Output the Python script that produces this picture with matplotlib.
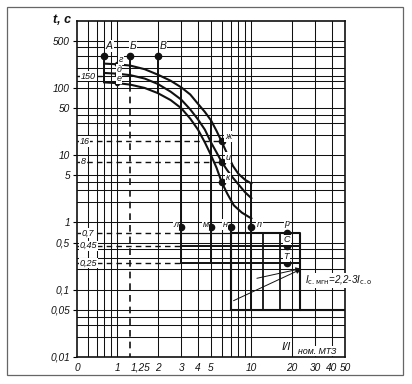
import matplotlib
matplotlib.use('Agg')
import matplotlib.pyplot as plt
from matplotlib.patches import Rectangle
from matplotlib.ticker import NullLocator

plt.rcParams['font.family'] = ['Liberation Sans', 'DejaVu Sans']

# axis ticks (the "0" sits on the left edge of the log axis)
x_ticks = [0.5, 1, 1.25, 2, 3, 4, 5, 10, 20, 30, 40, 50]
x_tick_labels = ['0', '1', '1,25', '2', '3', '4', '5', '10', '20', '30', '40', '50']
y_ticks = [500, 100, 50, 10, 5, 1, 0.5, 0.1, 0.05, 0.01]
y_tick_labels = ['500', '100', '50', '10', '5', '1', '0,5', '0,1', '0,05', '0,01']

grid_x = [0.6, 0.7, 0.8, 0.9, 1, 2, 3, 4, 5, 6, 7, 8, 9, 10, 20, 30, 40]
grid_y = [0.02, 0.03, 0.04, 0.05, 0.1, 0.2, 0.3, 0.4, 0.5, 1, 2, 3, 4, 5,
          10, 20, 30, 40, 50, 100, 125, 150, 200, 300, 400, 500]

# three time-current curves (г-ж, д-и, е-к)
top_x = [0.8, 1.0, 1.25, 1.6, 2.0, 2.5, 3.0, 3.5, 4.0, 4.5, 5.0, 5.5, 6.0, 6.6, 7.3, 8.0, 9.0, 10.0]
top_t = [230, 225, 215, 190, 158, 128, 102, 80, 58, 44, 33, 23, 16, 10.5, 6.9, 5.3, 4.3, 3.8]
mid_x = [0.8, 1.0, 1.25, 1.6, 2.0, 2.5, 3.0, 3.5, 4.0, 4.5, 5.0, 5.5, 6.0, 6.6, 7.3, 8.0, 9.0, 10.0]
mid_t = [167, 163, 155, 138, 115, 88, 67, 48, 34, 24, 15.5, 11, 8, 6.0, 4.6, 3.7, 2.8, 2.3]
bot_x = [0.8, 1.0, 1.25, 1.6, 2.0, 2.5, 3.0, 3.5, 4.0, 4.5, 5.0, 5.5, 6.0, 6.6, 7.4, 8.5, 10.0]
bot_t = [121, 118, 112, 100, 84, 66, 50, 35, 24, 15.5, 10, 6.5, 4, 2.7, 1.8, 1.4, 1.15]

# labelled points
abv_x = [0.8, 1.25, 2.0]
abv_t = [300, 300, 300]
gde_x = [1.0, 1.0, 1.0]
gde_t = [225, 163, 118]
zhik_x = [6.0, 6.0, 6.0]
zhik_t = [16, 8, 4]
lmnp_x = [3, 5, 7, 10]
lmnp_t = [0.85, 0.85, 0.85, 0.85]
rst_x = [18.4, 18.4, 18.4]
rst_t = [0.7, 0.45, 0.25]

# box of the instantaneous stage
box_left, box_right = 7, 23
box_low, box_high = 0.05, 0.7
box_inner_x = [12.2, 16.5]

# arrow to I_c.mgn
arrow_tip = (24.5, 0.21)
arrow_tails = [(7.05, 0.066), (10.5, 0.145)]

K = '#111111'
TXT = dict(style='italic', color=K)
WB = dict(boxstyle='square,pad=0.08', fc='white', ec='none')

fig = plt.figure(figsize=(4.12, 3.84), dpi=100)
ax = fig.add_axes([77 / 412, 27 / 384, 268 / 412, 336.3 / 384])
ax.set_xscale('log')
ax.set_yscale('log')
ax.set_xlim(0.5, 50)
ax.set_ylim(0.01, 1000)

ax.set_xticks(x_ticks)
ax.set_xticklabels(x_tick_labels, fontsize=7.3, **TXT)
ax.get_xticklabels()[2].set_ha('left')
ax.set_yticks(y_ticks)
ax.set_yticklabels(y_tick_labels, fontsize=7.3, **TXT)
ax.xaxis.set_minor_locator(NullLocator())
ax.yaxis.set_minor_locator(NullLocator())
ax.tick_params(axis='x', length=0, pad=4)
ax.tick_params(axis='y', length=3, width=0.8, pad=2)
for sp in ax.spines.values():
    sp.set_linewidth(1.2)
    sp.set_color(K)

for g in grid_x:
    ax.axvline(g, color=K, lw=0.75, zorder=1)
for g in grid_y:
    ax.axhline(g, color=K, lw=0.75, zorder=1)

# curves
for cx, ct in [(top_x, top_t), (mid_x, mid_t), (bot_x, bot_t)]:
    ax.plot(cx, ct, color=K, lw=1.5, zorder=3, solid_joinstyle='round')

# verticals from points
ax.plot([0.8, 0.8], [300, bot_t[0]], color=K, lw=1.4, zorder=3)
ax.plot([1.25, 1.25], [300, 112], color=K, lw=1.4, zorder=3)
ax.plot([1.25, 1.25], [112, 0.01], color=K, lw=1.2, ls=(0, (4, 3)), zorder=3)
ax.plot([2, 2], [300, 84], color=K, lw=1.4, zorder=3)
ax.plot([3, 3], [102, 0.25], color=K, lw=1.4, zorder=3)
ax.plot([5, 5], [33, 0.25], color=K, lw=1.4, zorder=3)
ax.plot([10, 10], [3.8, box_low], color=K, lw=1.4, zorder=3)
ax.plot([box_left, box_left], [0.85, box_low], color=K, lw=1.5, zorder=3)

# box
ax.plot([box_left, box_right, box_right], [box_high, box_high, box_low], color=K, lw=1.5, zorder=3)
ax.plot([box_left, 50], [box_low, box_low], color=K, lw=1.5, zorder=3)
for bx in box_inner_x:
    ax.plot([bx, bx], [box_high, box_low], color=K, lw=1.3, zorder=3)
ax.plot([3, box_left], [0.7, 0.7], color=K, lw=0.9, zorder=3)
ax.plot([3, box_right], [0.45, 0.45], color=K, lw=1.4, zorder=3)
ax.plot([3, box_right], [0.25, 0.25], color=K, lw=1.4, zorder=3)

# dashed reference levels with their labels
dash = (0, (4, 3))
for lvl, xe, lab, xl in [(150, 0.8, '150', 0.61), (16, 6, '16', 0.57), (8, 6, '8', 0.56),
                         (0.7, 3, '0,7', 0.6), (0.45, 3, '0,45', 0.61), (0.25, 3, '0,25', 0.61)]:
    ax.plot([0.5, xe], [lvl, lvl], color=K, lw=1.0, ls=dash, zorder=2)
    ax.text(xl, lvl, lab, fontsize=6.5, ha='center', va='center', bbox=WB, zorder=5, **TXT)

# points
ax.plot(abv_x, abv_t, 'o', color=K, ms=4.5, zorder=4)
ax.plot(gde_x, gde_t, 'o', color=K, ms=3, zorder=4)
ax.plot(zhik_x, zhik_t, 'o', color=K, ms=4.5, zorder=4)
ax.plot(lmnp_x, lmnp_t, 'o', color=K, ms=4.5, zorder=4)
ax.plot(rst_x, rst_t, 'o', color=K, ms=4.5, zorder=4)

# point letters
for x, t, s in [(0.87, 420, 'А'), (1.31, 420, 'Б'), (2.2, 420, 'В'),
                (1.07, 265, 'г'), (1.03, 190, 'д'), (1.03, 138, 'е'),
                (6.7, 19, 'ж'), (6.7, 9.2, 'и'), (6.7, 4.6, 'к'),
                (2.75, 0.93, 'л'), (4.55, 0.93, 'м'), (6.35, 0.93, 'н'), (11.5, 0.93, 'п'),
                (18.4, 0.95, 'р'), (18.4, 0.55, 'С'), (18.2, 0.31, 'Т')]:
    fs = 7.5 if s in 'АБВ' else 6.5
    ax.text(x, t, s, fontsize=fs, ha='center', va='center', bbox=WB, zorder=5, **TXT)

# arrow and setting annotation
for tail in arrow_tails:
    ax.annotate('', xy=arrow_tip, xytext=tail, zorder=4,
                arrowprops=dict(arrowstyle='-|>', color=K, lw=0.7, mutation_scale=7))
ax.text(25.2, 0.138, r'$I_{\mathrm{с.мгн}}$=2,2-3$I_{\mathrm{с.о}}$', fontsize=7,
        ha='left', va='center', bbox=WB, zorder=5, **TXT)

# axis titles
ax.text(16.9, 0.0139, 'I/I', fontsize=8, ha='left', va='center', bbox=WB, zorder=5, **TXT)
ax.text(22.3, 0.0122, 'ном. МТЗ', fontsize=6.3, ha='left', va='center', bbox=WB, zorder=5, **TXT)
fig.text(53 / 412, 1 - 20 / 384, 't, c', fontsize=9, weight='bold', va='center', **TXT)

fig.add_artist(Rectangle((7 / 412, 9 / 384), 396 / 412, 368 / 384, transform=fig.transFigure,
                         fill=False, lw=0.9, ec='#666666'))

fig.savefig('out.png', dpi=100)
